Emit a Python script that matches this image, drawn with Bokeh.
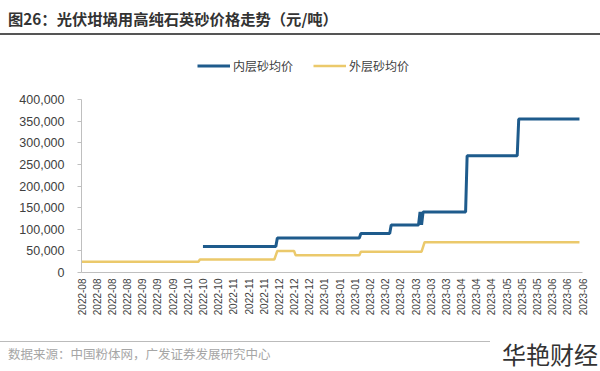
import pandas as pd
from bokeh.plotting import figure
from bokeh.layouts import column
from bokeh.models import (Range1d, FixedTicker, DatetimeTickFormatter, NumeralTickFormatter,
                          Legend, LegendItem, Div)
from bokeh.embed import file_html
from bokeh.resources import INLINE

# ---------------- data ----------------
title_text = "图26：光伏坩埚用高纯石英砂价格走势（元/吨）"
source_text = "数据来源：中国粉体网，广发证券发展研究中心"
watermark_text = "华艳财经"
series_names = ["内层砂均价", "外层砂均价"]

inner_dates = ["2022-10-20", "2022-12-07", "2022-12-08", "2023-01-31", "2023-02-01",
               "2023-02-20", "2023-02-21", "2023-03-11", "2023-03-12", "2023-03-13",
               "2023-03-14", "2023-04-11", "2023-04-12", "2023-05-15", "2023-05-16",
               "2023-06-25"]
inner_prices = [60000, 60000, 80000, 80000, 90000,
                90000, 110000, 110000, 140000, 110000,
                140000, 140000, 270000, 270000, 355000,
                355000]

outer_dates = ["2022-08-01", "2022-10-17", "2022-10-18", "2022-12-06", "2022-12-08",
               "2022-12-19", "2022-12-20", "2023-01-31", "2023-02-01", "2023-03-13",
               "2023-03-15", "2023-06-25"]
outer_prices = [25000, 25000, 30000, 30000, 50000,
                50000, 40000, 40000, 48000, 48000,
                70000, 70000]

axis_start = "2022-08-01"
axis_end = "2023-06-27"
tick_step_days = 10
y_min, y_max = 0, 400000
y_ticks = [0, 50000, 100000, 150000, 200000, 250000, 300000, 350000, 400000]

blue = "#1E5B8C"
gold = "#EBC96B"
W = 600
HEAD_H, MAIN_H, FOOT_H = 36, 300, 35
BORDER_TOP, BORDER_BOTTOM = 12, 64
AXIS_PX = 173  # pixel height of the 0..400,000 y axis
CJK = "'Noto Sans CJK SC', sans-serif"

# ---------------- header: title and rule ----------------
head_html = (
    f'<div style="position:relative;width:{W}px;height:{HEAD_H}px;font-family:{CJK};">'
    f'<div style="position:absolute;left:8px;top:8px;font-size:15.3px;font-weight:bold;'
    f'color:#333333;line-height:20px;white-space:nowrap;">{title_text}</div>'
    f'<div style="position:absolute;left:0px;top:33px;width:{W}px;height:2px;'
    f'background:#555555;"></div></div>'
)
head = Div(text=head_html, width=W, height=HEAD_H, margin=0)

# ---------------- main chart ----------------
frame_h = MAIN_H - BORDER_TOP - BORDER_BOTTOM
range_top = y_min + (y_max - y_min) * frame_h / AXIS_PX  # room above the axis for the legend

p = figure(width=W, height=MAIN_H, x_axis_type="datetime", output_backend="svg",
           toolbar_location=None, title=None, min_border_left=81, min_border_right=18,
           min_border_top=BORDER_TOP, min_border_bottom=BORDER_BOTTOM,
           x_range=Range1d(pd.Timestamp(axis_start), pd.Timestamp(axis_end)),
           y_range=Range1d(y_min, range_top))
p.outline_line_color = None
p.xgrid.visible = False
p.ygrid.visible = False
p.background_fill_color = "white"
p.border_fill_color = "white"

r_in = p.line(pd.to_datetime(inner_dates), inner_prices, line_color=blue, line_width=3)
r_out = p.line(pd.to_datetime(outer_dates), outer_prices, line_color=gold, line_width=2.5)

ticks = pd.date_range(axis_start, axis_end, freq=f"{tick_step_days}D")
xa = p.xaxis[0]
xa.ticker = FixedTicker(ticks=[t.value / 1e6 for t in ticks])
fmt = "%Y-%m"
xa.formatter = DatetimeTickFormatter(microseconds=fmt, milliseconds=fmt, seconds=fmt,
                                     minsec=fmt, minutes=fmt, hourmin=fmt, hours=fmt,
                                     days=fmt, months=fmt, years=fmt)
xa.major_label_orientation = 1.5708
xa.major_tick_out = 0
xa.major_tick_in = 0
xa.minor_tick_out = 0
xa.minor_tick_in = 0
xa.axis_line_color = "#BFBFBF"
xa.major_label_text_font = "Liberation Sans"
xa.major_label_text_font_size = "10px"
xa.major_label_text_color = "#404040"
xa.major_label_standoff = 6

ya = p.yaxis[0]
ya.bounds = (y_min, y_max)
ya.ticker = FixedTicker(ticks=y_ticks)
ya.formatter = NumeralTickFormatter(format="0,0")
ya.axis_line_color = "#BFBFBF"
ya.major_tick_line_color = "#BFBFBF"
ya.major_tick_out = 4
ya.major_tick_in = 0
ya.minor_tick_out = 0
ya.minor_tick_in = 0
ya.major_label_text_font = "Liberation Sans"
ya.major_label_text_font_size = "12.5px"
ya.major_label_text_color = "#404040"
ya.major_label_standoff = 13

legend = Legend(items=[LegendItem(label=series_names[0], renderers=[r_in]),
                       LegendItem(label=series_names[1], renderers=[r_out])],
                orientation="horizontal", location=(116, 198),
                glyph_width=33, glyph_height=17, label_standoff=3, spacing=20,
                padding=0, margin=0, border_line_color=None,
                background_fill_alpha=0,
                label_text_font="Noto Sans CJK SC", label_text_font_size="12px",
                label_text_color="#404040")
p.add_layout(legend, "center")

# ---------------- footer: rule, source, watermark ----------------
foot_html = (
    f'<div style="position:relative;width:{W}px;height:{FOOT_H}px;font-family:{CJK};">'
    f'<div style="position:absolute;left:0px;top:5px;width:490px;height:1px;background:#BBBBBB;"></div>'
    f'<div style="position:absolute;left:8px;top:9px;font-size:12.5px;line-height:18px;'
    f'color:#A6A6A6;white-space:nowrap;">{source_text}</div>'
    f'<div style="position:absolute;right:2px;top:3px;font-size:24px;line-height:30px;'
    f'color:#333333;white-space:nowrap;">{watermark_text}</div></div>'
)
foot = Div(text=foot_html, width=W, height=FOOT_H, margin=0)

layout = column(head, p, foot, spacing=0)
open("out.html", "w").write(file_html(layout, INLINE))
